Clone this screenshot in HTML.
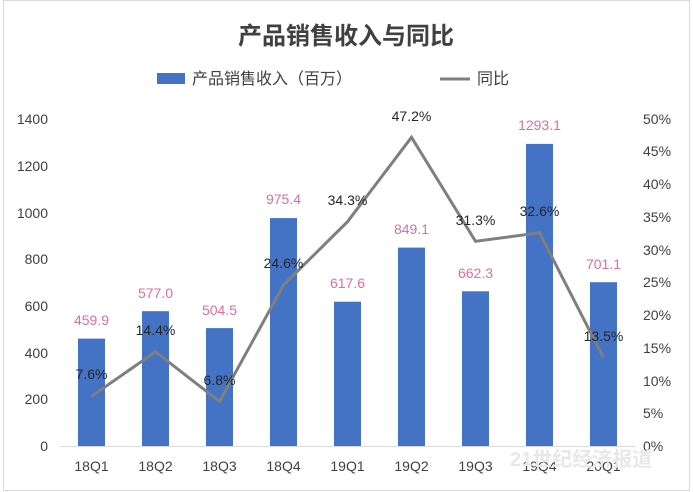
<!DOCTYPE html><html><head><meta charset="utf-8"><style>body{margin:0;background:#fff}svg{display:block}text{font-family:"Liberation Sans","Noto Sans CJK SC",sans-serif}</style></head><body>
<svg width="693" height="492" viewBox="0 0 693 492">
<rect x="3.5" y="0.5" width="686" height="490" fill="#fff" stroke="#d9d9d9"/>
<text x="346" y="44" font-size="24" font-weight="bold" text-anchor="middle" fill="#404040">产品销售收入与同比</text>
<rect x="157" y="73" width="28" height="11" fill="#4472c4"/>
<text x="192" y="84" font-size="16" fill="#404040">产品销售收入（百万）</text>
<line x1="440" y1="79" x2="470" y2="79" stroke="#7f7f7f" stroke-width="3"/>
<text x="477" y="84" font-size="16" fill="#404040">同比</text>
<g font-size="14" fill="#404040" text-anchor="end">
<text x="48" y="451">0</text><text x="48" y="404">200</text><text x="48" y="358">400</text><text x="48" y="311">600</text><text x="48" y="264">800</text><text x="48" y="218">1000</text><text x="48" y="171">1200</text><text x="48" y="124">1400</text>
</g>
<g font-size="14" fill="#404040" text-anchor="start">
<text x="643" y="451">0%</text><text x="643" y="418">5%</text><text x="643" y="386">10%</text><text x="643" y="353">15%</text><text x="643" y="320">20%</text><text x="643" y="287">25%</text><text x="643" y="255">30%</text><text x="643" y="222">35%</text><text x="643" y="189">40%</text><text x="643" y="156">45%</text><text x="643" y="124">50%</text>
</g>
<line x1="60" y1="446.5" x2="635" y2="446.5" stroke="#d9d9d9"/>
<g fill="#4472c4">
<rect x="78" y="338.6" width="27" height="107.4"/>
<rect x="142" y="311.2" width="27" height="134.8"/>
<rect x="206" y="328.1" width="27" height="117.9"/>
<rect x="270" y="218.1" width="27" height="227.9"/>
<rect x="334" y="301.7" width="27" height="144.3"/>
<rect x="398" y="247.6" width="27" height="198.4"/>
<rect x="462" y="291.3" width="27" height="154.7"/>
<rect x="526" y="143.9" width="27" height="302.1"/>
<rect x="590" y="282.2" width="27" height="163.8"/>
</g>
<polyline fill="none" stroke="#7f7f7f" stroke-width="3" points="91.5,396.3 155.5,351.8 219.5,401.5 283.5,285.1 347.5,221.7 411.5,137.3 475.5,241.3 539.5,232.8 603.5,357.7"/>
<g font-size="14" fill="#e36c9a" text-anchor="middle">
<text x="91.5" y="325">459.9</text><text x="155.5" y="298">577.0</text><text x="219.5" y="315">504.5</text><text x="283.5" y="204">975.4</text><text x="347.5" y="288">617.6</text><text x="411.5" y="234">849.1</text><text x="475.5" y="278">662.3</text><text x="539.5" y="130">1293.1</text><text x="603.5" y="269">701.1</text>
</g>
<g font-size="14" fill="#262626" text-anchor="middle">
<text x="91.5" y="379">7.6%</text><text x="155.5" y="335">14.4%</text><text x="219.5" y="385">6.8%</text><text x="283.5" y="268">24.6%</text><text x="347.5" y="205">34.3%</text><text x="411.5" y="121">47.2%</text><text x="475.5" y="225">31.3%</text><text x="539.5" y="216">32.6%</text><text x="603.5" y="341">13.5%</text>
</g>
<g font-size="14" fill="#404040" text-anchor="middle">
<text x="91.5" y="471">18Q1</text><text x="155.5" y="471">18Q2</text><text x="219.5" y="471">18Q3</text><text x="283.5" y="471">18Q4</text><text x="347.5" y="471">19Q1</text><text x="411.5" y="471">19Q2</text><text x="475.5" y="471">19Q3</text><text x="539.5" y="471">19Q4</text><text x="603.5" y="471">20Q1</text>
</g>
<text x="510" y="466" font-size="20" fill="#e8e8e8" font-weight="bold">21世纪经济报道</text>
</svg></body></html>
